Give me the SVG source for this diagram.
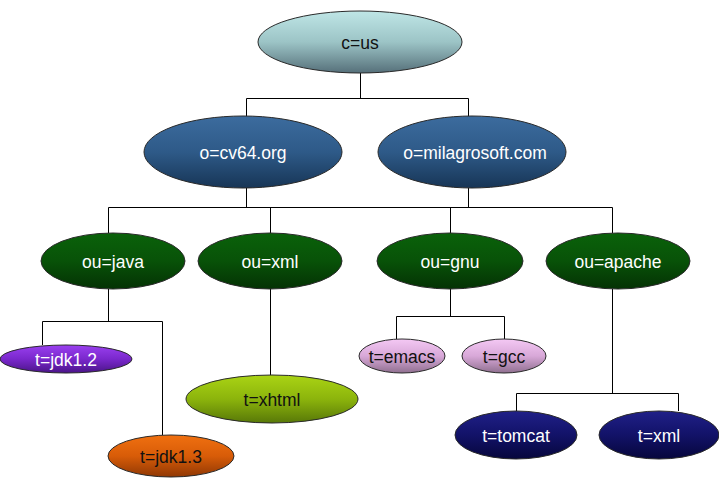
<svg xmlns="http://www.w3.org/2000/svg" width="719" height="482" viewBox="0 0 719 482">
<defs>
<linearGradient id="gTeal" x1="0" y1="0" x2="0" y2="1"><stop offset="0" stop-color="#bfe6e6"/><stop offset="0.5" stop-color="#9cc4c6"/><stop offset="1" stop-color="#56707a"/></linearGradient>
<linearGradient id="gBlue" x1="0" y1="0" x2="0" y2="1"><stop offset="0" stop-color="#3c6c9e"/><stop offset="0.5" stop-color="#2e5a88"/><stop offset="1" stop-color="#173556"/></linearGradient>
<linearGradient id="gGreen" x1="0" y1="0" x2="0" y2="1"><stop offset="0" stop-color="#0a620a"/><stop offset="0.5" stop-color="#085208"/><stop offset="1" stop-color="#043204"/></linearGradient>
<linearGradient id="gPurple" x1="0" y1="0" x2="0" y2="1"><stop offset="0" stop-color="#9a40f0"/><stop offset="0.5" stop-color="#7a28cc"/><stop offset="1" stop-color="#4a1488"/></linearGradient>
<linearGradient id="gOrange" x1="0" y1="0" x2="0" y2="1"><stop offset="0" stop-color="#f07010"/><stop offset="0.5" stop-color="#d85c08"/><stop offset="1" stop-color="#903804"/></linearGradient>
<linearGradient id="gLime" x1="0" y1="0" x2="0" y2="1"><stop offset="0" stop-color="#aad414"/><stop offset="0.5" stop-color="#8cb40c"/><stop offset="1" stop-color="#587808"/></linearGradient>
<linearGradient id="gPink" x1="0" y1="0" x2="0" y2="1"><stop offset="0" stop-color="#f4c8f4"/><stop offset="0.5" stop-color="#d8a8d8"/><stop offset="1" stop-color="#907090"/></linearGradient>
<linearGradient id="gNavy" x1="0" y1="0" x2="0" y2="1"><stop offset="0" stop-color="#202088"/><stop offset="0.5" stop-color="#121268"/><stop offset="1" stop-color="#06063c"/></linearGradient>
</defs>
<style>
.n{stroke:#2a2a2a;stroke-width:1}
.t{font-family:"Liberation Sans",Arial,sans-serif;font-size:17.5px;text-anchor:middle;dominant-baseline:central}
.w{fill:#ffffff}
.k{fill:#111111}
.c{fill:none;stroke:#000000;stroke-width:1}
</style>
<rect width="719" height="482" fill="#ffffff"/>
<g id="connectors" class="c">
<path d="M360.5 73V98.5M246.5 98.5H468.5M246.5 98.5V117M468.5 98.5V117"/>
<path d="M246.5 188V207.5M108.5 207.5H612.5M468.5 188V207.5M108.5 207.5V233M270.5 207.5V233M450.5 207.5V233M612.5 207.5V233"/>
<path d="M108.5 289V321.5M42.5 321.5H162.5M42.5 321.5V345M162.5 321.5V435"/>
<path d="M270.5 289V375"/>
<path d="M450.5 289V316.5M396.5 316.5H504.5M396.5 316.5V339M504.5 316.5V339"/>
<path d="M612.5 289V393.5M516.5 393.5H678.5M516.5 393.5V411M678.5 393.5V411"/>
</g>
<g id="n-c-us"><ellipse class="n" cx="360" cy="42" rx="102" ry="31" fill="url(#gTeal)"/><text class="t k" x="360" y="43">c=us</text></g>
<g id="n-o-cv64"><ellipse class="n" cx="243" cy="152" rx="99" ry="36" fill="url(#gBlue)"/><text class="t w" x="243" y="153">o=cv64.org</text></g>
<g id="n-o-milagrosoft"><ellipse class="n" cx="472" cy="152" rx="94" ry="36" fill="url(#gBlue)"/><text class="t w" x="475" y="153">o=milagrosoft.com</text></g>
<g id="n-ou-java"><ellipse class="n" cx="113" cy="261" rx="72" ry="28" fill="url(#gGreen)"/><text class="t w" x="113" y="262">ou=java</text></g>
<g id="n-ou-xml"><ellipse class="n" cx="270" cy="261" rx="72" ry="28" fill="url(#gGreen)"/><text class="t w" x="270" y="262">ou=xml</text></g>
<g id="n-ou-gnu"><ellipse class="n" cx="450" cy="261" rx="73" ry="28" fill="url(#gGreen)"/><text class="t w" x="450" y="262">ou=gnu</text></g>
<g id="n-ou-apache"><ellipse class="n" cx="618" cy="261" rx="72" ry="28" fill="url(#gGreen)"/><text class="t w" x="618" y="262">ou=apache</text></g>
<g id="n-t-jdk12"><ellipse class="n" cx="66" cy="359" rx="66" ry="14" fill="url(#gPurple)"/><text class="t w" x="66" y="360">t=jdk1.2</text></g>
<g id="n-t-jdk13"><ellipse class="n" cx="171" cy="456" rx="63" ry="21" fill="url(#gOrange)"/><text class="t k" x="171" y="457">t=jdk1.3</text></g>
<g id="n-t-xhtml"><ellipse class="n" cx="272" cy="399" rx="86" ry="24" fill="url(#gLime)"/><text class="t k" x="272" y="400">t=xhtml</text></g>
<g id="n-t-emacs"><ellipse class="n" cx="402" cy="356" rx="43" ry="17" fill="url(#gPink)"/><text class="t k" x="402" y="357">t=emacs</text></g>
<g id="n-t-gcc"><ellipse class="n" cx="504" cy="356" rx="42" ry="17" fill="url(#gPink)"/><text class="t k" x="504" y="357">t=gcc</text></g>
<g id="n-t-tomcat"><ellipse class="n" cx="516" cy="435" rx="61" ry="24" fill="url(#gNavy)"/><text class="t w" x="516" y="436">t=tomcat</text></g>
<g id="n-t-xml"><ellipse class="n" cx="659" cy="435" rx="60" ry="24" fill="url(#gNavy)"/><text class="t w" x="659" y="436">t=xml</text></g>
</svg>
